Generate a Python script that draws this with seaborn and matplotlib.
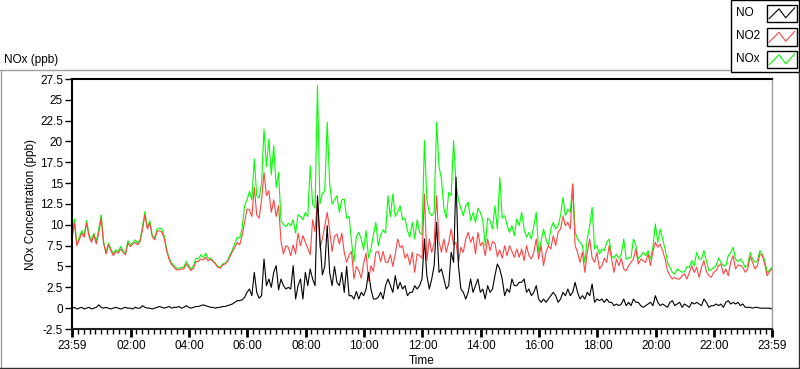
import numpy as np
import pandas as pd
import matplotlib
matplotlib.use("Agg")
import matplotlib.pyplot as plt
import seaborn as sns
from matplotlib.lines import Line2D
from matplotlib.patches import Rectangle

# ---------------- data (5-minute samples from 23:59 to 23:59) ----------------
no2 = [8.3,10.2,7.5,8.2,9.0,8.5,10.2,8.6,7.9,8.8, 7.7,9.0,10.8,7.8,6.5,7.6,6.9,6.3,6.8,6.6,
       7.1,6.7,6.4,7.8,7.4,7.7,7.9,7.6,8.0,9.4, 11.2,9.5,10.2,8.6,8.2,9.2,9.3,9.1,8.3,6.8,
       5.8,5.2,4.9,4.6,4.6,4.7,4.7,5.3,4.9,4.5, 4.8,5.6,5.6,5.9,5.8,6.1,5.7,
       5.9,5.6,5.3,4.9,4.8,5.2,5.3,5.6,6.2,6.8, 7.3,7.9,7.6,8.7,10.3,11.9,11.8,11.0,14.5,11.2,
       10.8,13.0,16.3,13.5,14.1,11.5,13.0,11.0,12.3,8.0, 6.5,7.5,7.3,6.3,7.6,6.5,9.0,7.5,8.7,7.9,
       7.2,6.4,10.6,9.2,13.0,7.2,8.3,9.9,11.5,9.4, 6.8,8.6,8.9,7.7,9.0,6.7,5.5,6.4,6.8,3.5,
       5.0,4.5,3.6,5.4,6.6,3.3,5.1,4.4,6.7,6.8, 5.6,6.8,5.5,5.5,6.4,5.0,6.5,8.3,7.3,7.5,
       6.0,6.5,5.2,6.7,4.3,6.5,6.3,6.0,13.7,5.7, 8.3,6.7,7.8,13.5,8.0,6.7,8.3,6.7,7.9,9.5,
       7.6,7.9,5.5,7.3,6.7,8.3,9.1,7.9,8.6,6.5, 9.1,7.5,7.9,6.3,8.3,6.9,8.0,7.8,
       6.2,7.0,6.0,7.5,6.3,7.5,6.8,6.1,7.1,6.1, 7.1,5.7,7.5,6.3,5.9,6.7,8.3,5.9,7.5,5.1,
       6.7,7.5,7.1,8.7,7.5,9.1,9.5,11.0,9.9,10.3, 9.5,14.9,7.5,6.7,5.5,6.7,4.3,6.7,8.3,6.0,
       5.5,6.7,4.7,5.1,6.0,5.5,7.5,5.9,4.3,5.9, 5.1,6.0,4.7,4.5,5.1,5.5,5.9,7.1,
       5.3,5.9,5.7,5.5,6.5,5.1,6.8,7.9,7.3,7.7, 6.9,5.9,4.5,3.9,3.5,3.7,3.5,3.5,3.9,4.1,
       3.5,4.3,5.1,4.3,4.9,3.7,4.9,5.7,4.4,3.9, 3.7,4.3,4.5,5.1,5.3,4.1,4.7,3.9,5.5,6.3,
       4.7,5.2,5.1,4.9,4.3,4.7,6.2,5.5,4.7,5.1, 6.5,6.3,5.3,3.9,4.4,4.7]

nox = [8.6,10.7,7.7,8.5,9.3,8.7,10.5,8.9,8.1,9.0, 8.0,9.5,11.2,8.0,6.7,7.8,7.1,6.5,7.0,6.8,
       7.4,6.9,6.6,8.1,7.6,7.9,8.2,7.8,8.2,9.8, 11.6,9.7,10.5,8.8,8.4,9.5,9.6,9.5,8.6,7.0,
       6.0,5.4,5.1,4.8,4.8,4.9,4.9,5.6,5.1,4.7, 5.1,6.0,5.9,6.4,6.1,6.6,6.0,
       6.0,5.7,5.4,5.0,4.9,5.3,5.4,5.7,6.4,7.0, 7.8,8.5,8.4,9.6,12.3,13.0,14.0,13.0,17.9,13.5,
       13.2,15.0,21.5,17.0,20.3,16.0,19.5,14.5,16.3,10.5, 10.0,9.8,10.2,9.9,10.6,9.0,11.2,11.0,10.6,11.5,
       11.0,17.1,12.5,12.0,26.7,12.5,13.8,14.0,22.3,15.0, 12.5,13.0,13.5,11.5,13.0,13.1,10.8,11.0,8.0,5.5,
       8.6,9.1,8.3,7.0,9.3,6.0,7.1,8.8,10.3,7.5, 8.8,9.4,9.0,13.5,11.0,13.7,11.0,11.5,12.3,10.6,
       10.8,9.3,8.5,10.3,8.3,10.6,9.1,8.8,20.1,13.0, 11.5,11.1,11.5,22.3,17.0,15.5,12.0,10.8,13.9,13.5,
       20.1,15.0,13.0,12.0,11.1,12.3,12.7,10.5,11.5,10.3, 12.0,11.5,10.5,7.5,10.8,10.5,9.5,12.3,
       9.5,15.7,10.8,11.1,10.0,9.1,9.9,8.7,10.7,9.9, 11.5,9.5,8.5,9.1,8.3,9.9,11.5,6.7,8.0,9.5,
       8.3,7.5,9.5,10.3,9.5,9.9,11.1,13.3,11.1,11.9, 11.5,14.9,9.1,8.3,7.9,7.5,5.5,8.3,9.9,12.1,
       7.1,7.5,6.5,7.1,6.9,7.9,8.3,6.3,6.0,6.5, 6.0,6.5,8.3,5.9,6.0,6.1,8.3,7.5,
       5.9,6.3,6.7,6.3,6.9,5.9,7.3,10.1,7.9,9.5, 8.3,7.1,5.5,4.9,4.3,4.1,4.7,4.5,4.3,4.4,
       5.0,4.9,5.7,5.1,6.7,5.9,5.9,6.9,5.7,4.5, 4.6,4.9,5.1,6.0,5.5,5.1,5.1,6.3,6.7,7.3,
       5.9,5.6,5.9,5.5,4.9,5.1,6.7,5.9,5.5,5.7, 6.9,6.5,5.7,4.3,4.6,4.9]

no = [0.0,0.1,-0.1,0.0,0.1,-0.1,0.0,0.1,-0.1,0.0, 0.1,0.4,0.1,0.0,0.1,0.0,-0.1,0.0,0.1,0.0,
      -0.1,0.0,0.1,0.0,0.0,-0.1,0.1,0.0,0.0,0.3, 0.1,0.0,0.0,-0.1,0.0,0.1,0.2,0.1,0.0,0.1,
      0.2,0.0,0.1,0.1,0.2,0.0,0.1,0.3,0.1,0.0, 0.1,0.2,0.2,0.3,0.4,0.3,0.2,
      0.1,0.1,0.0,0.1,0.1,0.2,0.2,0.3,0.4,0.5, 0.7,0.9,0.9,1.0,1.3,1.9,2.3,1.5,4.3,1.9,
      1.2,1.5,5.9,2.7,3.5,2.5,4.3,5.1,2.2,3.5, 2.7,2.3,2.5,2.3,5.1,1.1,2.7,3.5,1.1,4.3,
      2.7,4.7,3.5,2.7,13.5,8.3,4.0,5.0,9.9,4.3, 2.7,5.0,3.1,2.7,4.3,1.9,5.0,1.5,1.5,1.1,
      2.0,1.1,1.9,1.5,2.3,4.3,2.3,1.1,1.1,1.3, 1.9,1.1,2.7,3.5,2.7,1.9,3.9,2.3,3.1,2.3,
      2.7,1.5,1.9,1.9,2.7,2.3,2.7,3.5,8.3,3.9, 2.3,3.5,5.1,10.3,4.3,4.7,3.5,2.3,2.7,6.7,
      5.5,15.7,5.1,2.3,1.9,1.1,1.9,3.5,1.9,2.7, 3.5,1.9,2.3,1.1,2.7,1.9,2.3,3.9,
      5.3,4.7,3.5,1.5,2.3,1.9,3.5,2.7,2.7,3.1, 3.1,3.5,1.9,2.3,1.5,1.9,2.7,1.1,0.7,1.1,
      0.7,1.1,1.5,1.9,1.5,0.7,1.1,1.9,1.5,2.3, 1.5,1.9,3.1,1.9,1.1,1.5,1.1,1.9,1.5,2.9,
      0.7,1.1,0.9,1.1,0.7,1.1,0.7,0.7,0.3,0.5, 0.3,0.5,1.1,0.3,0.7,0.3,1.1,0.7,
      0.7,0.3,0.1,0.3,0.5,0.7,0.3,1.5,0.7,0.3, 0.5,0.3,0.1,0.7,0.9,0.3,0.5,0.7,0.1,0.5,
      0.3,0.1,0.7,0.5,0.7,0.5,0.3,1.1,0.7,0.1, 0.3,0.3,0.5,0.3,0.5,0.1,0.7,0.9,0.5,0.7,
      0.5,0.7,0.3,0.5,0.1,0.1,0.1,0.0,0.1,0.1, 0.0,0.0,0.0,0.0,0.0,-0.1]

sample_minutes = 5
hours = [i * sample_minutes / 60 for i in range(len(no2))]   # hours since 23:59

x_tick_labels = ["23:59", "02:00", "04:00", "06:00", "08:00", "10:00", "12:00",
                 "14:00", "16:00", "18:00", "20:00", "22:00", "23:59"]
y_ticks = [-2.5, 0, 2.5, 5, 7.5, 10, 12.5, 15, 17.5, 20, 22.5, 25, 27.5]
series_names = ["NO", "NO2", "NOx"]
series_colors = ["#000000", "#FF4444", "#00FF00"]

# ---------------- figure ----------------
sns.set_theme(style="white")
plt.rcParams['font.family'] = ['Liberation Sans', 'DejaVu Sans']

W, H = 800, 369
fig = plt.figure(figsize=(W / 100, H / 100), dpi=100)
fig.patch.set_facecolor("white")

def fx(px):
    return px / W

def fy(py):
    return 1 - py / H

L, R, T, B = 72, 772, 79, 329
ax = fig.add_axes([fx(L), fy(B), fx(R) - fx(L), fy(T) - fy(B)])
ax.set_facecolor("white")

df = pd.DataFrame({"t": hours, "NO": no, "NO2": no2, "NOx": nox})
sns.lineplot(data=df, x="t", y="NOx", color=series_colors[2], lw=0.8, ax=ax,
             estimator=None, zorder=1)
sns.lineplot(data=df, x="t", y="NO2", color=series_colors[1], lw=0.8, ax=ax,
             estimator=None, zorder=2)
sns.lineplot(data=df, x="t", y="NO", color=series_colors[0], lw=0.8, ax=ax,
             estimator=None, zorder=3)

ax.set_xlim(0, 24)
ax.set_ylim(-2.5, 27.5)
ax.grid(False)
ax.set_xlabel("")
ax.set_ylabel("")

ax.set_yticks(y_ticks)
ax.set_yticklabels(["{:g}".format(v) for v in y_ticks])
major_x = [0] + [h + 1 / 60 for h in range(2, 24, 2)] + [24]
ax.set_xticks(major_x)
ax.set_xticklabels(x_tick_labels)
minor_x = [k * 0.2 for k in range(0, 121)]
minor_x = [m for m in minor_x if min(abs(m - M) for M in major_x) > 0.05]
ax.set_xticks(minor_x, minor=True)

ax.tick_params(axis="y", which="major", direction="out", length=5, width=1,
               color="black", labelsize=8.5, pad=1.5, left=True, labelcolor="black")
ax.tick_params(axis="x", which="major", direction="out", length=6, width=2,
               color="black", labelsize=8.5, pad=2, bottom=True, labelcolor="black")
ax.tick_params(axis="x", which="minor", direction="out", length=3.5, width=1,
               color="black", bottom=True)

for side in ["top", "left"]:
    ax.spines[side].set_color("black")
    ax.spines[side].set_linewidth(1.5)
ax.spines["bottom"].set_color("#202020")
ax.spines["bottom"].set_linewidth(1.5)
ax.spines["right"].set_color("#A0A0A0")
ax.spines["right"].set_linewidth(1.0)

# axis labels / title
fig.text(fx(31), fy(204), "NOx Concentration (ppb)", rotation=90, ha="center",
         va="center", fontsize=8.5, color="black")
fig.text(fx(422), fy(361), "Time", ha="center", va="center", fontsize=8.5, color="black")
fig.text(fx(4), fy(60), "NOx (ppb)", ha="left", va="center", fontsize=8.5, color="black")

# panel frame
fig.add_artist(Line2D([fx(0), fx(730)], [fy(69.5), fy(69.5)], color="#A0A0A0", lw=1))
fig.add_artist(Line2D([fx(0.5), fx(0.5)], [fy(69.5), fy(368)], color="#A0A0A0", lw=1))
fig.add_artist(Line2D([fx(0), fx(800)], [fy(367.8), fy(367.8)], color="#303030", lw=1))
fig.add_artist(Line2D([fx(799.3), fx(799.3)], [fy(72), fy(368)], color="#303030", lw=1))

# legend box
fig.add_artist(Rectangle((fx(730.5), fy(72)), fx(799) - fx(730.5), fy(0) - fy(72),
                         facecolor="white", edgecolor="black", lw=1))
box_tops = [4.5, 28, 50.5]
text_y = [13, 36, 59.5]
zig_x = [2, 12, 18.7, 27.7]
zig_y = [14.3, 4.3, 13.3, 3.3]
for name, col, top, ty in zip(series_names, series_colors, box_tops, text_y):
    fig.text(fx(736), fy(ty), name, ha="left", va="center", fontsize=8.5, color="black")
    fig.add_artist(Rectangle((fx(767), fy(top + 17.5)), fx(797) - fx(767),
                             fy(top) - fy(top + 17.5), facecolor="white",
                             edgecolor="black", lw=1))
    fig.add_artist(Line2D([fx(767 + zx) for zx in zig_x],
                          [fy(top + zy) for zy in zig_y], color=col, lw=0.8))

fig.savefig("out.png", dpi=100, facecolor="white")
